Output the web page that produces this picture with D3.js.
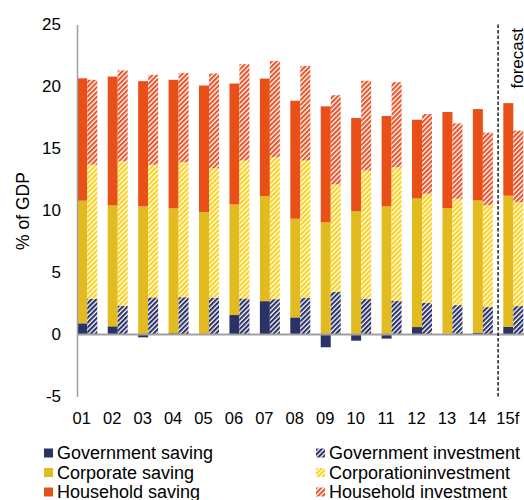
<!DOCTYPE html>
<html>
<head>
<meta charset="utf-8">
<script src="https://cdn.jsdelivr.net/npm/d3@7/dist/d3.min.js"></script>
<style>
html,body{margin:0;padding:0;background:#fff;}
svg{display:block;font-family:"Liberation Sans",Arial,sans-serif;}
</style>
</head>
<body>
<svg id="chart" width="524" height="500"></svg>
<script>
const categories = ["01","02","03","04","05","06","07","08","09","10","11","12","13","14","15f"];
const govSaving  = [0.90, 0.66, -0.23, 0.10, 0.05, 1.57, 2.69, 1.38, -1.03, -0.50, -0.33, 0.60, 0.05, 0.15, 0.63];
const corpSaving = [9.89, 9.75, 10.33, 10.07, 9.82, 8.92, 8.47, 7.96, 9.04, 9.93, 10.33, 10.37, 10.14, 10.66, 10.56];
const hhSaving   = [9.87, 10.39, 10.10, 10.37, 10.21, 9.75, 9.48, 9.51, 9.36, 7.53, 7.29, 6.35, 7.75, 7.37, 7.47];
const govInv     = [2.88, 2.32, 2.99, 3.01, 2.96, 2.91, 2.85, 2.96, 3.44, 2.88, 2.72, 2.56, 2.37, 2.21, 2.29];
const corpInv    = [10.82, 11.65, 10.71, 10.89, 10.44, 11.12, 11.45, 11.07, 8.66, 10.34, 10.77, 8.79, 8.58, 8.23, 8.39];
const hhInv      = [6.84, 7.33, 7.24, 7.20, 7.65, 7.77, 7.77, 7.63, 7.20, 7.24, 6.86, 6.43, 6.08, 5.84, 5.76];
const yTicks = [-5, 0, 5, 10, 15, 20, 25];
const yTickLabels = ["-5", "0", "5", "10", "15", "20", "25"];
const forecastFrom = "15f";

const seriesDefs = [
  {name:"Government saving", key:"gov", bar:"saving", values:govSaving, color:"#2b3266", hatch:false},
  {name:"Corporate saving", key:"corp", bar:"saving", values:corpSaving, color:"#e1bb1f", hatch:false},
  {name:"Household saving", key:"hh", bar:"saving", values:hhSaving, color:"#e85018", hatch:false},
  {name:"Government investment", key:"gov", bar:"investment", values:govInv, color:"#2b3266", hatch:true},
  {name:"Corporationinvestment", key:"corp", bar:"investment", values:corpInv, color:"#fcd21c", hatch:true},
  {name:"Household investment", key:"hh", bar:"investment", values:hhInv, color:"#e9542a", hatch:true}
];

const svg = d3.select("#chart");
const defs = svg.append("defs");
seriesDefs.filter(s=>s.hatch).forEach(s=>{
  const p = defs.append("pattern").attr("id","hatch-"+s.key)
    .attr("patternUnits","userSpaceOnUse").attr("width",3.4).attr("height",3.4)
    .attr("patternTransform","rotate(45)");
  p.append("rect").attr("width",3.4).attr("height",3.4).attr("fill","#fff");
  p.append("rect").attr("width",2.1).attr("height",3.4).attr("fill",s.color);
});

const y = d3.scaleLinear().domain([-5,25]).range([396.5,24.5]);
const x = d3.scaleBand().domain(categories).range([77.3,523.3]).paddingInner(0.343).paddingOuter(0);
const x1 = d3.scaleBand().domain(["saving","investment"]).range([0,x.bandwidth()]);

// stack with separate positive/negative
const segs = [];
categories.forEach((c,i)=>{
  ["saving","investment"].forEach(b=>{
    let pos=0, neg=0;
    seriesDefs.filter(s=>s.bar===b).forEach(s=>{
      const v = s.values[i];
      let y0,y1;
      if (v>=0){ y0=pos; y1=pos+v; pos=y1; } else { y0=neg; y1=neg+v; neg=y1; }
      segs.push({c, b, s, y0, y1});
    });
  });
});

svg.append("g").selectAll("rect").data(segs).join("rect")
  .attr("x", d=>x(d.c)+x1(d.b))
  .attr("width", x1.bandwidth())
  .attr("y", d=>y(Math.max(d.y0,d.y1)))
  .attr("height", d=>Math.abs(y(d.y0)-y(d.y1)))
  .attr("fill", d=>d.s.hatch ? "url(#hatch-"+d.s.key+")" : d.s.color);

// y axis
const yAxis = d3.axisLeft(y).tickValues(yTicks).tickSize(0).tickPadding(16)
  .tickFormat((d,i)=>yTickLabels[i]);
const gy = svg.append("g").attr("transform","translate(77,0)").call(yAxis);
gy.select(".domain").attr("stroke","#a0a0a0").attr("stroke-width",1.5);
gy.selectAll("text").attr("font-size",17).attr("fill","#000").attr("font-family","Liberation Sans, Arial, sans-serif");

// zero line
svg.append("line").attr("x1",77).attr("x2",524).attr("y1",y(0)).attr("y2",y(0))
  .attr("stroke","#a0a0a0").attr("stroke-width",2);

// x labels
svg.append("g").selectAll("text").data(categories).join("text")
  .attr("x", d=>x(d)+x.bandwidth()/2-5.5)
  .attr("y", 424)
  .attr("text-anchor","middle")
  .attr("font-size",16.5)
  .text(d=>d);

// forecast line
const fx = x(forecastFrom) - (x.step()-x.bandwidth())/2;
svg.append("line").attr("x1",fx).attr("x2",fx).attr("y1",24.5).attr("y2",398)
  .attr("stroke","#000").attr("stroke-width",1.3).attr("stroke-dasharray","3.5,2");
svg.append("text").attr("transform",`translate(${fx+25},28) rotate(-90)`)
  .attr("text-anchor","end").attr("font-size",17).text("forecast");

// y title
svg.append("text").attr("transform","translate(29,211) rotate(-90)")
  .attr("text-anchor","middle").attr("font-size",17.5).text("% of GDP");

// legend
const leg = svg.append("g");
seriesDefs.forEach((s,i)=>{
  const col = i<3 ? 0 : 1;
  const row = i%3;
  const lx = col===0 ? 44 : 316;
  const ly = 453 + row*19.5;
  leg.append("rect").attr("x",lx).attr("y",ly-4.5).attr("width",9).attr("height",9)
    .attr("fill", s.hatch ? "url(#hatch-"+s.key+")" : s.color);
  leg.append("text").attr("x",lx+13).attr("y",ly+6.3).attr("font-size",18).text(s.name);
});
</script>
</body>
</html>
